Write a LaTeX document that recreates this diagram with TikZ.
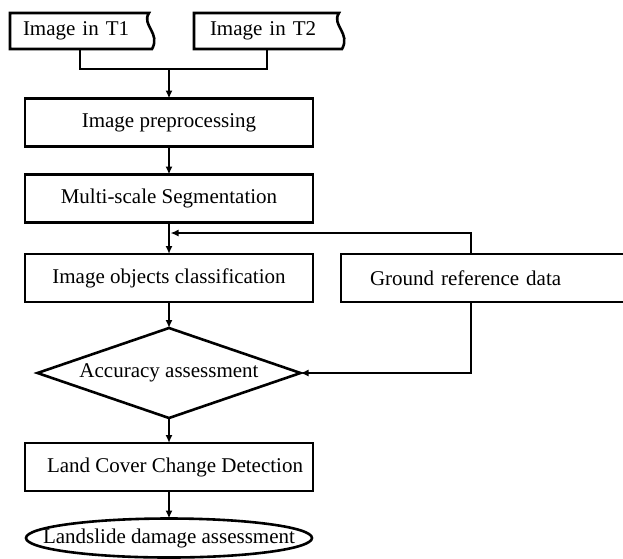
\documentclass[tikz,border=0pt]{standalone}
\usepackage{fontspec}
\setmainfont{Liberation Serif}
\usetikzlibrary{shapes.geometric,arrows.meta}
\begin{document}
\begin{tikzpicture}[x=1pt,y=-1pt,
  every node/.style={font=\fontsize{21}{25}\selectfont},
  procbox/.style={rectangle,draw,line width=2.6pt,minimum width=288pt,minimum height=48pt,inner sep=0pt,outer sep=0pt},
  doclabel/.style={rectangle,draw=none,minimum width=140pt,minimum height=36pt,inner ysep=0pt,outer sep=0pt,text width=114pt,align=left},
  docshape/.style={line width=2.6pt,line join=miter},
  conn/.style={line width=1.8pt},
  arr/.style={conn,-{Latex[length=8pt,width=7pt]}}
]
\path[use as bounding box,clip] (0,0) rectangle (623,558);

% document-shaped inputs
\node[doclabel,inner xsep=13pt] (t1) at (80,31) {Image in T1};
\node[doclabel,inner xsep=16pt] (t2) at (267,31) {Image in T2};
\foreach \n in {t1,t2}{
  \draw[docshape] (\n.north west) -- ([xshift=-1pt]\n.north east)
    .. controls ([xshift=-9pt,yshift=-12pt]\n.north east) and ([xshift=11pt,yshift=16pt]\n.south east) .. ([xshift=2pt]\n.south east)
    -- (\n.south west) -- cycle;
}

% process boxes
\node[procbox] (pre) at (169,122.5) {Image preprocessing};
\node[procbox] (seg) at (169,198.5) {Multi-scale Segmentation};
\node[procbox] (cls) at (169,278) {Image objects classification};
\node[procbox,minimum width=300pt,inner xsep=29pt,text width=242pt,align=left] (gr) at (491,278) {Ground reference data};
\node[diamond,draw,line width=2.6pt,minimum width=263pt,minimum height=90pt,inner sep=0pt,outer sep=0pt] (acc) at (169,373) {\makebox[0pt]{Accuracy assessment}};
\node[procbox] (lcc) at (169,467) {\makebox[0pt]{\hspace{12pt}Land Cover Change Detection}};
\node[ellipse,draw,line width=2.6pt,minimum width=286pt,minimum height=39pt,inner sep=0pt,outer sep=0pt] (lds) at (169,538) {\makebox[0pt]{Landslide damage assessment}};

% connectors
\coordinate (m) at (169,69);
\coordinate (fbx) at (471,0);
\coordinate (fbend) at (170.5,233);
\draw[conn] (t1.south) |- (m);
\draw[conn] (t2.south) |- (m);
\draw[arr] (m) -- (pre.north);
\draw[arr] (pre.south) -- (seg.north);
\draw[arr] (seg.south) -- (cls.north);
\draw[arr] (gr.north -| fbx) |- (fbend);
\draw[arr] (cls.south) -- (acc.north);
\draw[arr] (gr.south -| fbx) |- (acc.east);
\draw[arr] (acc.south) -- (lcc.north);
\draw[arr] (lcc.south) -- (lds.north);
\end{tikzpicture}
\end{document}
